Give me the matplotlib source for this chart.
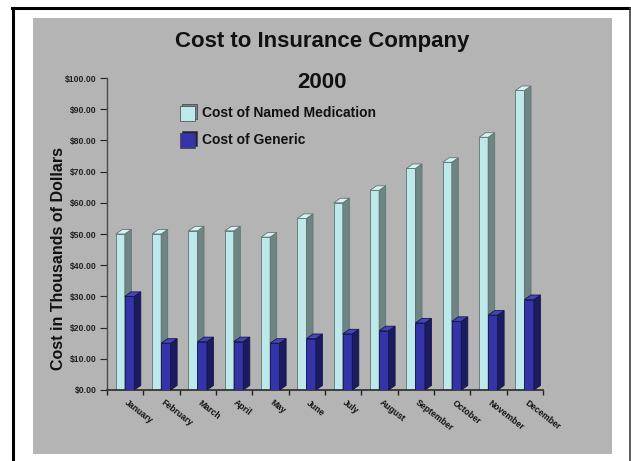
import matplotlib
matplotlib.use("Agg")
import matplotlib.pyplot as plt
from matplotlib.patches import Polygon, Rectangle
from matplotlib.lines import Line2D
import matplotlib.transforms as mtransforms

months = ["January", "February", "March", "April", "May", "June", "July",
          "August", "September", "October", "November", "December"]
named = [50, 50, 51, 51, 49, 55, 60, 64, 71, 73, 81, 96]
generic = [30, 15, 15.5, 15.5, 15, 16.5, 18, 19, 21.5, 22, 24, 29]
yticks = [0, 10, 20, 30, 40, 50, 60, 70, 80, 90, 100]

W, H = 631, 461
plt.rcParams['font.family'] = ['Liberation Sans', 'DejaVu Sans']
fig = plt.figure(figsize=(W / 100, H / 100), dpi=100)
fig.patch.set_facecolor('white')


def fx(x):
    return x / W


def fy(y):
    return 1 - y / H


# gray panel
fig.add_artist(Rectangle((fx(33), fy(454)), fx(612) - fx(33), fy(18) - fy(454),
                         transform=fig.transFigure, facecolor='#B4B4B4',
                         edgecolor='none', zorder=0))
# black frame (top, left, right)
fig.add_artist(Line2D([fx(12), fx(630)], [fy(8), fy(8)], transform=fig.transFigure,
                      color='black', lw=2.2, zorder=1))
fig.add_artist(Line2D([fx(13), fx(13)], [fy(8), fy(461)], transform=fig.transFigure,
                      color='black', lw=2.2, zorder=1))
fig.add_artist(Line2D([fx(630), fx(630)], [fy(8), fy(461)], transform=fig.transFigure,
                      color='#404040', lw=1.2, zorder=1))

ax = fig.add_axes([fx(107), fy(390), fx(543) - fx(107), fy(78) - fy(390)])
ax.set_facecolor('none')
ax.set_xlim(0, 12)
ax.set_ylim(0, 100)
for s in ['top', 'right']:
    ax.spines[s].set_visible(False)
ax.spines['left'].set_color('#4a4a4a')
ax.spines['bottom'].set_color('#2a2a2a')
ax.spines['left'].set_linewidth(1.0)
ax.spines['bottom'].set_linewidth(1.2)

ax.set_yticks(yticks)
ax.set_yticklabels(["${:.2f}".format(v) for v in yticks])
ax.tick_params(axis='y', length=5, width=0.8, pad=2.5, labelsize=6.2, colors='#222222')
for t in ax.get_yticklabels():
    t.set_fontweight('bold')
ax.set_xticks(range(13))
ax.set_xticklabels([])
ax.tick_params(axis='x', length=3.5, width=1.0, direction='out', colors='#222222')

dx = 0.18
dy = 1.45


def bar3d(x0, x1, v, front, side, top, edge, z):
    ax.add_patch(Polygon([(x0, 0), (x1, 0), (x1, v), (x0, v)], closed=True,
                         facecolor=front, edgecolor=edge, lw=0.6, zorder=z))
    ax.add_patch(Polygon([(x1, 0), (x1 + dx, dy), (x1 + dx, v + dy), (x1, v)], closed=True,
                         facecolor=side, edgecolor=edge, lw=0.6, zorder=z))
    ax.add_patch(Polygon([(x0, v), (x1, v), (x1 + dx, v + dy), (x0 + dx, v + dy)], closed=True,
                         facecolor=top, edgecolor=edge, lw=0.6, zorder=z))


for i in range(len(months)):
    bar3d(i + 0.24, i + 0.49, named[i], '#BEE9EA', '#6E8584', '#D8F2F2', '#5F7473', 2 + i * 0.01)
    bar3d(i + 0.49, i + 0.75, generic[i], '#3434A8', '#1B1B60', '#4646B8', '#15154A', 3 + i * 0.01)

offset = mtransforms.ScaledTranslation(0, -8 / 100, fig.dpi_scale_trans)
for i, m in enumerate(months):
    ax.text(i + 0.6, 0, m, transform=ax.transData + offset, rotation=-38,
            rotation_mode='anchor', ha='left', va='top', fontsize=6.2,
            fontweight='bold', color='#111111')

ax.text(-0.112, 0.42, "Cost in Thousands of Dollars", transform=ax.transAxes, rotation=90,
        ha='center', va='center', fontsize=11.5, fontweight='bold', color='#111111')

fig.text(fx(322), fy(41), "Cost to Insurance Company", ha='center', va='center',
         fontsize=16, fontweight='bold', color='#111111')
fig.text(fx(322), fy(82), "2000", ha='center', va='center',
         fontsize=16, fontweight='bold', color='#111111')

# legend
leg = [("Cost of Named Medication", '#BEE9EA', '#6E8584', 113),
       ("Cost of Generic", '#3434A8', '#1B1B60', 140)]
for label, fc, sc, yc in leg:
    fig.add_artist(Rectangle((fx(182), fy(yc + 6)), fx(15) - fx(0), fy(0) - fy(15),
                             transform=fig.transFigure, facecolor=sc, edgecolor='#404040',
                             lw=0.5, zorder=5))
    fig.add_artist(Rectangle((fx(180), fy(yc + 8)), fx(15) - fx(0), fy(0) - fy(15),
                             transform=fig.transFigure, facecolor=fc, edgecolor='#404040',
                             lw=0.5, zorder=6))
    fig.text(fx(202), fy(yc), label, ha='left', va='center', fontsize=10,
             fontweight='bold', color='#111111')

fig.savefig("out.png", dpi=100, facecolor='white')
